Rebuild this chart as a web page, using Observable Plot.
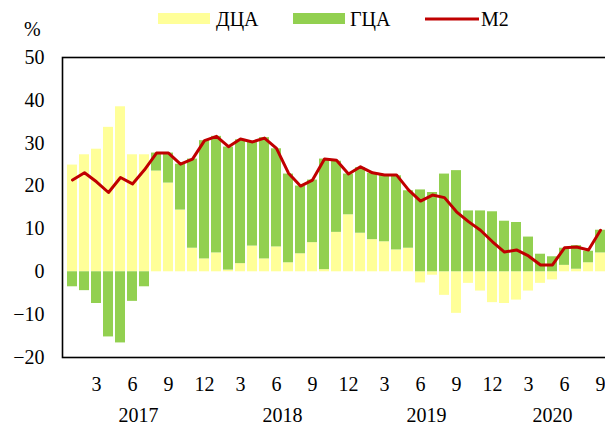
<!DOCTYPE html>
<html>
<head>
<meta charset="utf-8">
<script src="https://cdn.jsdelivr.net/npm/d3@7"></script>
<script src="https://cdn.jsdelivr.net/npm/@observablehq/plot@0.6"></script>
<style>
  body { margin: 0; background: white; }
  #wrap { position: relative; width: 605px; height: 431px; overflow: hidden; font-family: "Liberation Serif", serif; }
  #wrap svg text { font-family: "Liberation Serif", serif; }
  #legend { position: absolute; left: 0; top: 0; }
</style>
</head>
<body>
<div id="wrap"></div>
<script>
const months = [
  "2017-01","2017-02","2017-03","2017-04","2017-05","2017-06","2017-07","2017-08","2017-09","2017-10","2017-11","2017-12",
  "2018-01","2018-02","2018-03","2018-04","2018-05","2018-06","2018-07","2018-08","2018-09","2018-10","2018-11","2018-12",
  "2019-01","2019-02","2019-03","2019-04","2019-05","2019-06","2019-07","2019-08","2019-09","2019-10","2019-11","2019-12",
  "2020-01","2020-02","2020-03","2020-04","2020-05","2020-06","2020-07","2020-08","2020-09"
];
// ДЦА (net domestic assets), %
const dca = [24.9, 27.3, 28.6, 33.7, 38.5, 27.3, 27.3, 23.5, 20.7, 14.4, 5.5, 3.0,
             4.4, 0.4, 1.9, 6.0, 3.0, 5.8, 2.1, 4.2, 6.8, 0.5, 9.2, 13.3,
             9.0, 7.5, 7.0, 5.1, 5.5, -2.6, -0.8, -5.5, -9.7, -2.7, -4.5, -7.2,
             -7.4, -6.6, -4.5, -2.7, -1.9, 1.5, 0.6, 2.1, 4.4];
// ГЦА (net foreign assets), %
const gca = [-3.5, -4.4, -7.4, -15.2, -16.6, -6.9, -3.5, 4.2, 7.0, 10.7, 20.8, 27.6,
             27.2, 28.7, 28.9, 24.2, 28.3, 22.9, 20.7, 15.8, 14.6, 25.8, 16.6, 9.5,
             15.3, 15.5, 15.6, 17.3, 13.4, 19.1, 18.5, 22.8, 23.6, 14.2, 14.2, 14.0,
             11.8, 11.5, 8.1, 4.1, 3.5, 4.0, 5.5, 2.7, 5.3];
// M2, %
const m2 = [21.4, 23.1, 21.0, 18.5, 22.0, 20.5, 23.8, 27.7, 27.7, 25.1, 26.3, 30.6,
            31.6, 29.2, 31.0, 30.3, 31.2, 28.8, 23.0, 20.0, 21.4, 26.3, 26.0, 22.8,
            24.5, 23.1, 22.6, 22.6, 19.1, 16.5, 17.9, 17.3, 14.0, 11.7, 9.7, 7.0,
            4.6, 5.1, 3.7, 1.6, 1.6, 5.6, 5.8, 5.1, 9.7];
const seriesNames = ["ДЦА", "ГЦА"];
const seriesColors = ["#FFFF99", "#92D050"];
const lineColor = "#C00000";
const yTicks = [-20, -10, 0, 10, 20, 30, 40, 50];
const years = ["2017", "2018", "2019", "2020"];
const yearMid = ["2017-07", "2018-07", "2019-07", "2020-05"];

const bars = months.flatMap((m, i) => [
  {month: m, series: seriesNames[0], value: dca[i]},
  {month: m, series: seriesNames[1], value: gca[i]}
]);
const yearRows = years.map((y, i) => ({year: y, month: yearMid[i]}));
const serif = "Liberation Serif, serif";

const chart = Plot.plot({
  width: 605,
  height: 431,
  marginLeft: 62,
  marginRight: -4,
  marginTop: 57,
  marginBottom: 74,
  style: {fontFamily: serif, fontSize: "20px", background: "white", color: "black"},
  x: {type: "band", domain: months, padding: 0.18, axis: null, label: null},
  y: {domain: [-20, 50], axis: null, label: null},
  color: {domain: seriesNames, range: seriesColors},
  marks: [
    Plot.barY(bars, Plot.stackY({x: "month", y: "value", fill: "series", order: seriesNames})),
    Plot.lineY(m2, {x: (d, i) => months[i], y: d => d, stroke: lineColor, strokeWidth: 3, strokeLinejoin: "round"}),
    Plot.frame({stroke: "black", strokeWidth: 1.6}),
    Plot.axisY({ticks: yTicks, tickSize: 0, tickPadding: 18, fontSize: 20, fontFamily: serif, label: null}),
    Plot.axisX({ticks: months.filter(m => +m.slice(5) % 3 === 0), tickFormat: m => String(+m.slice(5)), tickSize: 0, tickPadding: 19, fontSize: 20, fontFamily: serif, label: null}),
    Plot.text(yearRows.slice(0, 3), {x: "month", text: "year", frameAnchor: "bottom", dy: 64, dx: -6, fontSize: 20, fontFamily: serif}),
    Plot.text(yearRows.slice(3), {x: "month", text: "year", frameAnchor: "bottom", dy: 64, fontSize: 20, fontFamily: serif})
  ]
});
const wrap = document.getElementById("wrap");
wrap.appendChild(chart);

const ns = "http://www.w3.org/2000/svg";
const leg = document.createElementNS(ns, "svg");
leg.setAttribute("id", "legend");
leg.setAttribute("width", 605);
leg.setAttribute("height", 45);
leg.setAttribute("font-family", serif);
leg.setAttribute("font-size", 20);
leg.innerHTML = `
  <text x="24" y="36">%</text>
  <rect x="158" y="13" width="52" height="11" fill="${seriesColors[0]}"></rect>
  <text x="216" y="26">${seriesNames[0]}</text>
  <rect x="293" y="13" width="52" height="11" fill="${seriesColors[1]}"></rect>
  <text x="350" y="26">${seriesNames[1]}</text>
  <line x1="425" x2="479" y1="19" y2="19" stroke="${lineColor}" stroke-width="3"></line>
  <text x="481" y="26">M2</text>`;
wrap.appendChild(leg);
</script>
</body>
</html>
